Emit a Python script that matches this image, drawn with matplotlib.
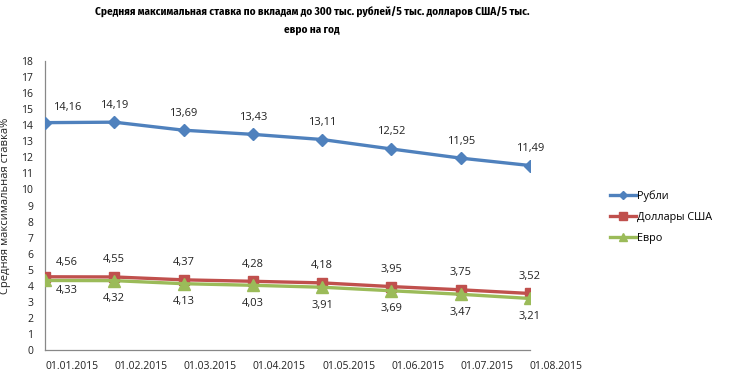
import matplotlib
matplotlib.use("Agg")
import matplotlib.pyplot as plt

dates = ["01.01.2015", "01.02.2015", "01.03.2015", "01.04.2015",
         "01.05.2015", "01.06.2015", "01.07.2015", "01.08.2015"]
rub = [14.16, 14.19, 13.69, 13.43, 13.11, 12.52, 11.95, 11.49]
usd = [4.56, 4.55, 4.37, 4.28, 4.18, 3.95, 3.75, 3.52]
eur = [4.33, 4.32, 4.13, 4.03, 3.91, 3.69, 3.47, 3.21]
names = ["Рубли", "Доллары США", "Евро"]

plt.rcParams['font.family'] = ["Open Sans", "DejaVu Sans"]
title_fam = ["Fira Sans Condensed", "Roboto Condensed", "DejaVu Sans"]

fig = plt.figure(figsize=(7.36, 3.85), dpi=100)
ax = fig.add_axes([45/736, 1-350/385, 485/736, 289/385])

x = list(range(len(dates)))
c_rub, c_usd, c_eur = "#4F81BD", "#C0504D", "#9BBB59"
ax.plot(x, rub, color=c_rub, lw=2.4, marker="D", ms=6.5, label=names[0], zorder=3)
ax.plot(x, usd, color=c_usd, lw=2.4, marker="s", ms=7.5, label=names[1], zorder=3)
ax.plot(x, eur, color=c_eur, lw=2.4, marker="^", ms=8.5, label=names[2], zorder=3)

def lab(vals, dy, dy0):
    for i, v in enumerate(vals):
        dx = 22 if i == 0 else 0
        d = dy0 if i == 0 else dy
        ax.annotate(f"{v:.2f}".replace(".", ","), (i, v), textcoords="offset pixels",
                    xytext=(dx, d), ha="center", va="center", fontsize=8, color="#222222")

lab(rub, 17, 15)
lab(usd, 17, 14)
lab(eur, -18, -10)

ax.set_xlim(0, len(dates) - 1)
ax.set_ylim(0, 18)
ax.set_yticks(range(0, 19))
ax.set_xticks(x)
ax.set_xticklabels(dates, ha="left")
ax.tick_params(axis="both", length=0, labelsize=7.5, colors="#222222")
ax.tick_params(axis="x", pad=8)
ax.tick_params(axis="y", pad=8.5)
for s in ["top", "right"]:
    ax.spines[s].set_visible(False)
for s in ["left", "bottom"]:
    ax.spines[s].set_color("#888888")
    ax.spines[s].set_linewidth(0.9)
ax.set_ylabel("Средняя максимальная ставка%", fontsize=8, color="#222222")
ax.yaxis.set_label_coords(-34/485, 0.5)

leg = fig.legend(loc="upper left", bbox_to_anchor=(600/736, 1-180/385), frameon=False,
                 fontsize=7.8, handlelength=2.4, handletextpad=0.15, labelspacing=0.95,
                 markerscale=0.7)

fig.text(312/736, 1-12/385, "Средняя максимальная ставка по вкладам до 300 тыс. рублей/5 тыс. долларов США/5 тыс.",
         ha="center", va="center", fontsize=8, fontweight="bold", family=title_fam)
fig.text(312/736, 1-30/385, "евро на год",
         ha="center", va="center", fontsize=8, fontweight="bold", family=title_fam)

fig.savefig("out.png", dpi=100, facecolor="white")
